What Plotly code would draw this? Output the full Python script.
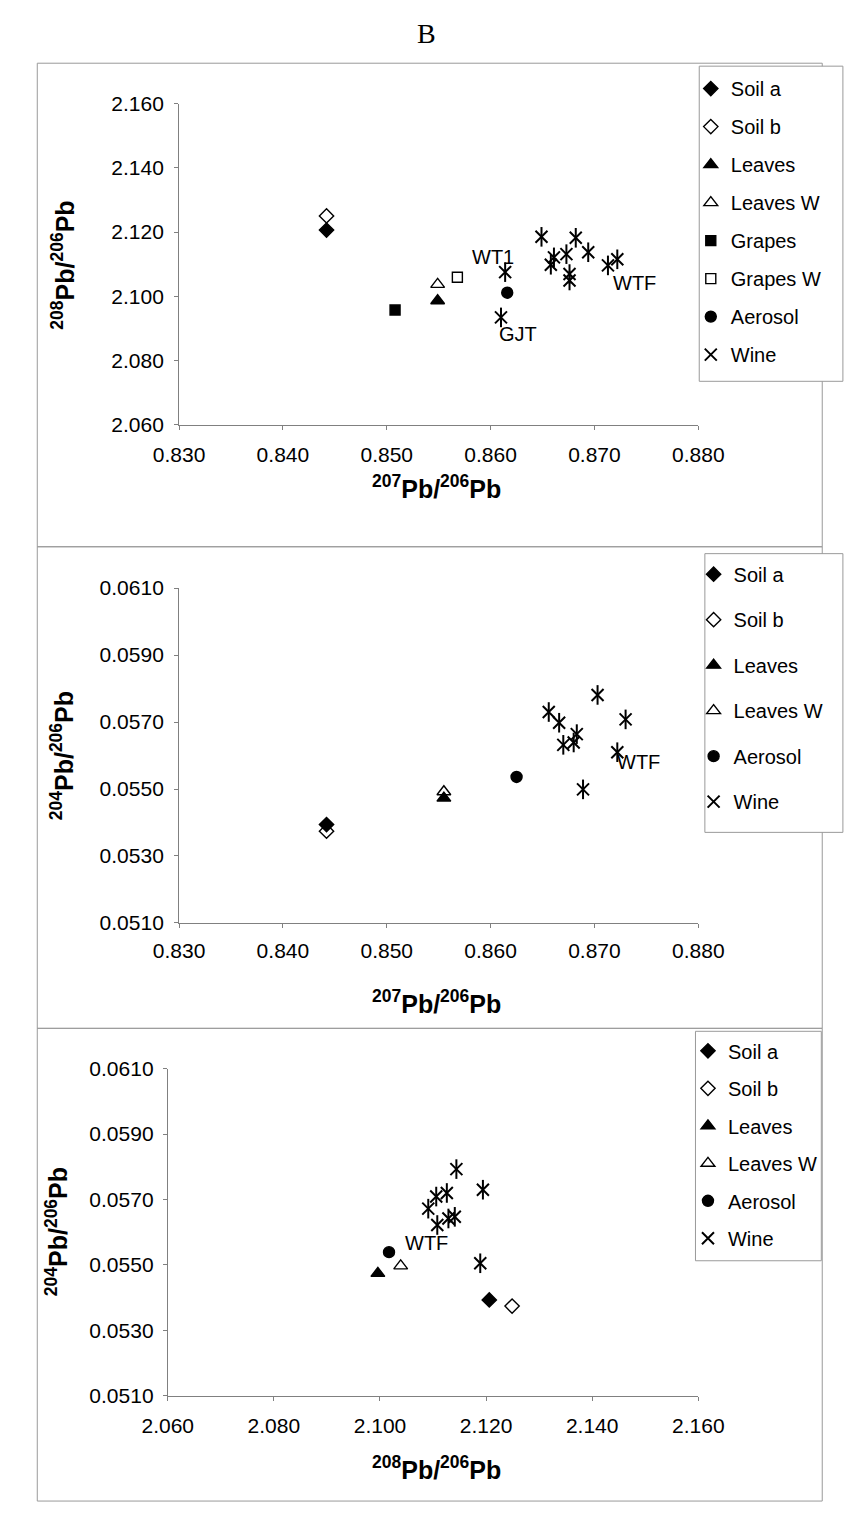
import plotly.graph_objects as go

W, H = 852, 1516

# ---------------- data ----------------
# Panel 1: 207Pb/206Pb (x) vs 208Pb/206Pb (y)
p1_soil_a = ([0.8442], [2.1206])
p1_soil_b = ([0.8442], [2.1250])
p1_leaves = ([0.8549], [2.0986])
p1_leaves_w = ([0.8549], [2.1037])
p1_grapes = ([0.8508], [2.0957])
p1_grapes_w = ([0.8568], [2.1059])
p1_aerosol = ([0.8616], [2.1011])
p1_wine_x = [0.8649, 0.8682, 0.8694, 0.8673, 0.8661, 0.8658, 0.8713, 0.8722, 0.8676, 0.8676, 0.8614, 0.8610]
p1_wine_y = [2.1185, 2.1182, 2.1137, 2.1131, 2.1121, 2.1098, 2.1096, 2.1115, 2.1069, 2.1049, 2.1075, 2.0934]

# Panel 2: 207Pb/206Pb (x) vs 204Pb/206Pb (y)
p2_soil_a = ([0.8442], [0.05394])
p2_soil_b = ([0.8442], [0.05374])
p2_leaves = ([0.8555], [0.05473])
p2_leaves_w = ([0.8555], [0.05492])
p2_aerosol = ([0.8625], [0.05536])
p2_wine_x = [0.8703, 0.8656, 0.8666, 0.8730, 0.8683, 0.8680, 0.8670, 0.8722, 0.8689]
p2_wine_y = [0.05781, 0.05730, 0.05698, 0.05708, 0.05664, 0.05639, 0.05632, 0.05610, 0.05499]

# Panel 3: 208Pb/206Pb (x) vs 204Pb/206Pb (y)
p3_soil_a = ([2.1206], [0.05393])
p3_soil_b = ([2.1249], [0.05374])
p3_leaves = ([2.0996], [0.05474])
p3_leaves_w = ([2.1039], [0.05497])
p3_aerosol = ([2.1017], [0.05539])
p3_wine_x = [2.1144, 2.1194, 2.1106, 2.1126, 2.1091, 2.1129, 2.1141, 2.1108, 2.1189]
p3_wine_y = [0.05793, 0.05730, 0.05709, 0.05720, 0.05672, 0.05642, 0.05647, 0.05622, 0.05505]

# point labels (text, x, y, panel)
labels = [("WT1", 0.8602, 2.1121, 1), ("GJT", 0.8626, 2.0882, 1), ("WTF", 0.8739, 2.1042, 1),
          ("WTF", 0.8742, 0.05582, 2), ("WTF", 2.1087, 0.05567, 3)]

# ticks
x_ticks_207 = [0.830, 0.840, 0.850, 0.860, 0.870, 0.880]
y_ticks_208 = [2.060, 2.080, 2.100, 2.120, 2.140, 2.160]
y_ticks_204 = [0.0510, 0.0530, 0.0550, 0.0570, 0.0590, 0.0610]
x_ticks_208 = [2.060, 2.080, 2.100, 2.120, 2.140, 2.160]

FONT = "Liberation Sans"
AX = "#808080"

def px(x):
    return x / W

def py(y):
    return 1 - y / H

fig = go.Figure()

styles = {
    "Soil a": dict(symbol="diamond", size=11),
    "Soil b": dict(symbol="diamond-open", size=11),
    "Leaves": dict(symbol="triangle-up", size=12),
    "Leaves W": dict(symbol="triangle-up-open", size=12),
    "Grapes": dict(symbol="square", size=10),
    "Grapes W": dict(symbol="square-open", size=10),
    "Aerosol": dict(symbol="circle", size=11),
}

def add_pt(name, xy, ax, leg, grp):
    st = styles[name]
    fig.add_trace(go.Scatter(
        x=xy[0], y=xy[1], mode="markers", name=name,
        xaxis="x" + ax, yaxis="y" + ax, legend=leg, legendgroup=grp + name,
        marker=dict(symbol=st["symbol"], size=st["size"], color="black",
                    line=dict(color="black", width=1.4)),
        cliponaxis=False))

def add_wine(xs, ys, ax, leg, grp):
    fig.add_trace(go.Scatter(
        x=xs, y=ys, mode="markers", name="Wine",
        xaxis="x" + ax, yaxis="y" + ax, legend=leg, legendgroup=grp + "Wine",
        marker=dict(symbol="x-thin-open", size=12, color="black",
                    line=dict(color="black", width=2)),
        cliponaxis=False))
    fig.add_trace(go.Scatter(
        x=xs, y=ys, mode="markers", name="Wine", showlegend=False,
        xaxis="x" + ax, yaxis="y" + ax, legendgroup=grp + "Wine",
        marker=dict(symbol="line-ns-open", size=14, color="black",
                    line=dict(color="black", width=2)),
        cliponaxis=False))

# panel 1
add_pt("Soil a", p1_soil_a, "", "legend", "a")
add_pt("Soil b", p1_soil_b, "", "legend", "a")
add_pt("Leaves", p1_leaves, "", "legend", "a")
add_pt("Leaves W", p1_leaves_w, "", "legend", "a")
add_pt("Grapes", p1_grapes, "", "legend", "a")
add_pt("Grapes W", p1_grapes_w, "", "legend", "a")
add_pt("Aerosol", p1_aerosol, "", "legend", "a")
add_wine(p1_wine_x, p1_wine_y, "", "legend", "a")

# panel 2
add_pt("Soil a", p2_soil_a, "2", "legend2", "b")
add_pt("Soil b", p2_soil_b, "2", "legend2", "b")
add_pt("Leaves", p2_leaves, "2", "legend2", "b")
add_pt("Leaves W", p2_leaves_w, "2", "legend2", "b")
add_pt("Aerosol", p2_aerosol, "2", "legend2", "b")
add_wine(p2_wine_x, p2_wine_y, "2", "legend2", "b")

# panel 3
add_pt("Soil a", p3_soil_a, "3", "legend3", "c")
add_pt("Soil b", p3_soil_b, "3", "legend3", "c")
add_pt("Leaves", p3_leaves, "3", "legend3", "c")
add_pt("Leaves W", p3_leaves_w, "3", "legend3", "c")
add_pt("Aerosol", p3_aerosol, "3", "legend3", "c")
add_wine(p3_wine_x, p3_wine_y, "3", "legend3", "c")

def axis(ticks, fmt, dom, anchor, standoff):
    eps = (ticks[-1] - ticks[0]) * 1e-6
    return dict(range=[ticks[0] - eps, ticks[-1] + eps], tickvals=ticks,
                ticktext=[fmt.format(t) for t in ticks],
                domain=dom, anchor=anchor, showline=True, linecolor=AX, linewidth=1,
                ticks="outside", ticklen=4, tickcolor=AX, showgrid=False, zeroline=False,
                ticklabelstandoff=standoff,
                tickfont=dict(family=FONT, size=21, color="black"))

lay = dict(
    width=W, height=H, margin=dict(l=0, r=0, t=0, b=0),
    paper_bgcolor="white", plot_bgcolor="rgba(0,0,0,0)", showlegend=True,
    xaxis=axis(x_ticks_207, "{:.3f}", [px(163), px(716)], "y", 7),
    yaxis=axis(y_ticks_208, "{:.3f}", [py(419), py(93)], "x", 6),
    xaxis2=axis(x_ticks_207, "{:.3f}", [px(163), px(716)], "y2", 5),
    yaxis2=axis(y_ticks_204, "{:.4f}", [py(925), py(585)], "x2", 6),
    xaxis3=axis(x_ticks_208, "{:.3f}", [px(151), px(716)], "y3", 7),
    yaxis3=axis(y_ticks_204, "{:.4f}", [py(1405), py(1073)], "x3", 5),
)

def legend(left, top, gap):
    return dict(x=px(left), y=py(top), xanchor="left", yanchor="top",
                bgcolor="rgba(0,0,0,0)", borderwidth=0,
                font=dict(family=FONT, size=20, color="black"),
                tracegroupgap=gap, itemsizing="trace", itemwidth=30)

lay["legend"] = legend(708, 58, 9)
lay["legend2"] = legend(711, 551, 16.5)
lay["legend3"] = legend(705, 1035, 8.5)

fig.update_layout(**lay)

shapes = []
# panel frames
for (y0, y1) in [(52, 543), (543, 1032), (1032, 1512)]:
    shapes.append(dict(type="rect", xref="paper", yref="paper",
                       x0=px(12), x1=px(848), y0=py(y1), y1=py(y0),
                       line=dict(color="#9a9a9a", width=1), layer="below"))
# legend frames
for (x0, x1, y0, y1) in [(717, 870, 55, 375), (723, 870, 550, 833), (713, 847, 1035, 1268)]:
    shapes.append(dict(type="rect", xref="paper", yref="paper",
                       x0=px(x0), x1=px(x1), y0=py(y1), y1=py(y0),
                       fillcolor="white", line=dict(color="#9a9a9a", width=1), layer="below"))
fig.update_layout(shapes=shapes)

ann = []
ann.append(dict(text="B", x=px(426), y=py(22), xref="paper", yref="paper", showarrow=False,
                xanchor="center", yanchor="middle",
                font=dict(family="Liberation Serif", size=28, color="black")))

def title(text, x, y, angle=0):
    ann.append(dict(text=text, x=px(x), y=py(y), xref="paper", yref="paper", showarrow=False,
                    xanchor="center", yanchor="middle",
                    textangle=angle, font=dict(family=FONT, size=25, color="black")))

title("<b><sup>207</sup>Pb/<sup>206</sup>Pb</b>", 437, 482)
title("<b><sup>208</sup>Pb/<sup>206</sup>Pb</b>", 40, 257, -90)
title("<b><sup>207</sup>Pb/<sup>206</sup>Pb</b>", 437, 1005)
title("<b><sup>204</sup>Pb/<sup>206</sup>Pb</b>", 38, 755, -90)
title("<b><sup>208</sup>Pb/<sup>206</sup>Pb</b>", 437, 1478)
title("<b><sup>204</sup>Pb/<sup>206</sup>Pb</b>", 33, 1238, -90)

for (t, x, y, p) in labels:
    sfx = "" if p == 1 else str(p)
    ann.append(dict(text=t, x=x, y=y, xref="x" + sfx, yref="y" + sfx, showarrow=False,
                    xanchor="center", yanchor="middle",
                    font=dict(family=FONT, size=20, color="black")))

fig.update_layout(annotations=ann)

fig.write_html("out.html")
